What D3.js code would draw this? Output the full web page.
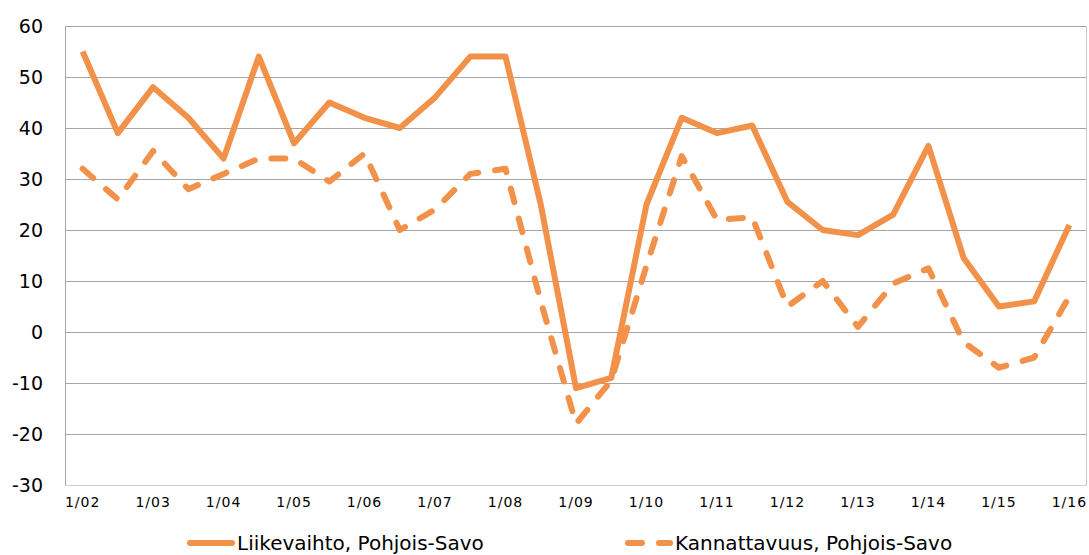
<!DOCTYPE html>
<html>
<head>
<meta charset="utf-8">
<script src="https://cdn.jsdelivr.net/npm/d3@7"></script>
<style>
  body { margin: 0; background: #fff; }
  svg { display: block; font-family: "DejaVu Sans", sans-serif; }
</style>
</head>
<body>
<svg width="1089" height="555"></svg>
<script>
const periods = [
  '1/02', '7/02', '1/03', '7/03', '1/04', '7/04', '1/05', '7/05', '1/06', '7/06',
  '1/07', '7/07', '1/08', '7/08', '1/09', '7/09', '1/10', '7/10', '1/11', '7/11',
  '1/12', '7/12', '1/13', '7/13', '1/14', '7/14', '1/15', '7/15', '1/16'
];
const tickLabels = ['1/02', '1/03', '1/04', '1/05', '1/06', '1/07', '1/08', '1/09',
  '1/10', '1/11', '1/12', '1/13', '1/14', '1/15', '1/16'];
const yTicks = [-30, -20, -10, 0, 10, 20, 30, 40, 50, 60];

const liikevaihto = [55, 39, 48, 42, 34, 54, 37, 45, 42, 40,
  46, 54, 54, 25, -11, -9, 25, 42, 39, 40.5,
  25.5, 20, 19, 23, 36.5, 14.5, 5, 6, 21];
const kannattavuus = [32, 26, 35.5, 28, 31, 34, 34, 29.5, 35, 20,
  24, 31, 32, 6, -18, -9.5, 13, 34.5, 22, 22.5,
  5, 10, 1, 9.5, 12.5, -2, -7, -5, 7];

const seriesNames = ['Liikevaihto, Pohjois-Savo', 'Kannattavuus, Pohjois-Savo'];

const color = '#F29149';
const plot = {left: 65, right: 1087, top: 26, bottom: 485};

const svg = d3.select('svg');

const xScale = d3.scaleBand().domain(periods).range([plot.left, plot.right]);
const yScale = d3.scaleLinear().domain([-30, 60]).range([plot.bottom, plot.top]);
const xMid = d => xScale(d) + xScale.bandwidth() / 2;

// grid
svg.append('g')
  .selectAll('line')
  .data(yTicks)
  .enter()
  .append('line')
  .attr('x1', plot.left)
  .attr('x2', plot.right)
  .attr('y1', d => Math.round(yScale(d)) + 0.5)
  .attr('y2', d => Math.round(yScale(d)) + 0.5)
  .attr('stroke', d => d === -30 ? '#D0D0D0' : '#A6A6A6')
  .attr('stroke-width', 1);

// plot borders
svg.append('line')
  .attr('x1', plot.left + 0.5).attr('x2', plot.left + 0.5)
  .attr('y1', plot.top).attr('y2', plot.bottom)
  .attr('stroke', '#A6A6A6');
svg.append('line')
  .attr('x1', plot.right - 0.5).attr('x2', plot.right - 0.5)
  .attr('y1', plot.top).attr('y2', plot.bottom)
  .attr('stroke', '#C8C8C8');

// y axis (plain hyphen for negatives, like the original)
const yAxis = svg.append('g')
  .attr('transform', `translate(${plot.left}, 0)`)
  .call(d3.axisLeft(yScale).tickValues(yTicks).tickFormat(d => String(d))
    .tickSize(0).tickPadding(22));
yAxis.select('.domain').remove();
yAxis.selectAll('text')
  .attr('font-size', 19)
  .attr('font-family', '"DejaVu Sans", sans-serif')
  .attr('fill', '#000');

// x axis
const xAxis = svg.append('g')
  .attr('transform', `translate(0, ${plot.bottom})`)
  .call(d3.axisBottom(xScale).tickValues(tickLabels).tickSize(0).tickPadding(12));
xAxis.select('.domain').remove();
xAxis.selectAll('text')
  .attr('font-size', 14)
  .attr('letter-spacing', 1)
  .attr('font-family', '"DejaVu Sans", sans-serif')
  .attr('fill', '#000');

// lines
const line = d3.line()
  .x((d, i) => xMid(periods[i]))
  .y(d => yScale(d));

svg.append('path')
  .datum(liikevaihto)
  .attr('d', line)
  .attr('fill', 'none')
  .attr('stroke', color)
  .attr('stroke-width', 6)
  .attr('stroke-linejoin', 'round');

svg.append('path')
  .datum(kannattavuus)
  .attr('d', line)
  .attr('fill', 'none')
  .attr('stroke', color)
  .attr('stroke-width', 6)
  .attr('stroke-linecap', 'round')
  .attr('stroke-linejoin', 'round')
  .attr('stroke-dasharray', '14,17');

// legend
const legendItems = [
  {name: seriesNames[0], x: 190, dash: null},
  {name: seriesNames[1], x: 628, dash: '14,17'}
];
const legend = svg.append('g')
  .selectAll('g')
  .data(legendItems)
  .enter()
  .append('g')
  .attr('transform', d => `translate(${d.x}, 543)`);

legend.append('line')
  .attr('x1', 0).attr('x2', 42)
  .attr('stroke', color)
  .attr('stroke-width', 6)
  .attr('stroke-linecap', 'round')
  .attr('stroke-dasharray', d => d.dash);

legend.append('text')
  .attr('x', 47)
  .attr('y', 7)
  .attr('font-size', 20)
  .attr('fill', '#000')
  .text(d => d.name);
</script>
</body>
</html>
